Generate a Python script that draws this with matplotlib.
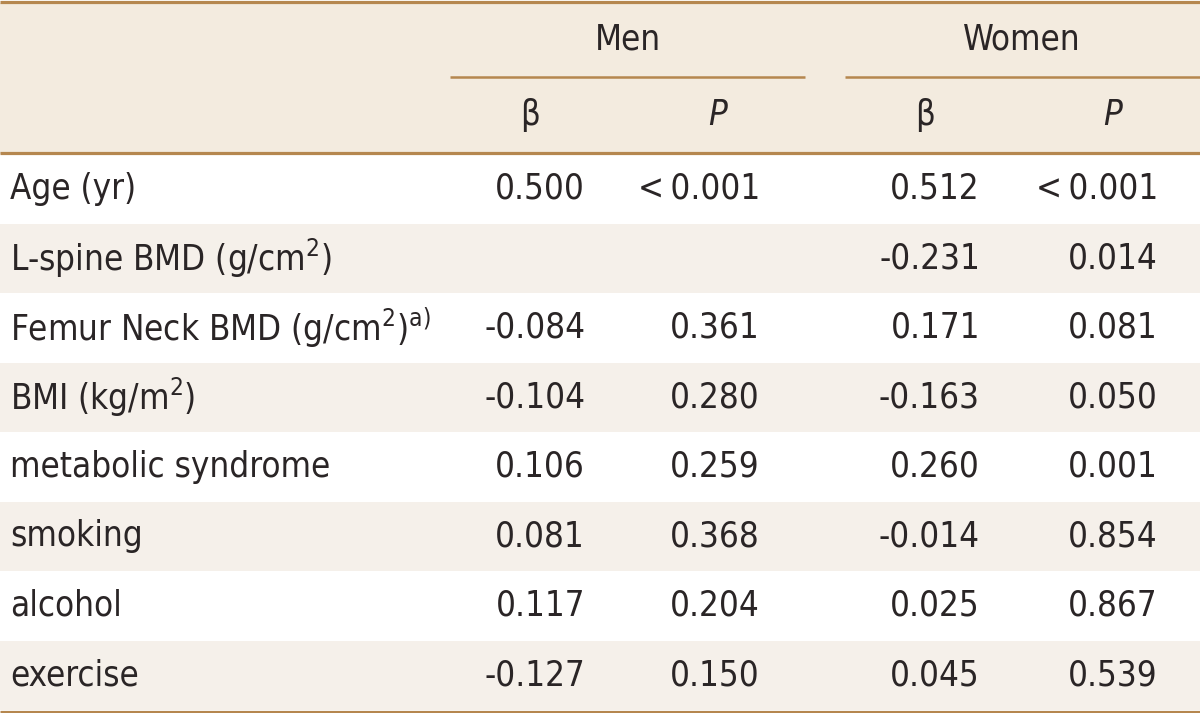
import matplotlib
matplotlib.use('Agg')
import matplotlib.pyplot as plt
from matplotlib.patches import Rectangle

# table content
variables = ['Age (yr)', 'L-spine BMD (g/cm$^{2}$)', 'Femur Neck BMD (g/cm$^{2}$)$^{\\mathrm{a)}}$',
             'BMI (kg/m$^{2}$)', 'metabolic syndrome', 'smoking', 'alcohol', 'exercise']
men_beta = ['0.500', '', '-0.084', '-0.104', '0.106', '0.081', '0.117', '-0.127']
men_p = ['<\u20090.001', '', '0.361', '0.280', '0.259', '0.368', '0.204', '0.150']
women_beta = ['0.512', '-0.231', '0.171', '-0.163', '0.260', '-0.014', '0.025', '0.045']
women_p = ['<\u20090.001', '0.014', '0.081', '0.050', '0.001', '0.854', '0.867', '0.539']
groups = ['Men', 'Women']
sub_headers = ['\u03b2', 'P']

W, H = 1200, 713
line_col = '#B5874F'
head_bg = '#F3EBDF'
band_bg = '#F5F0EA'
txt = '#2A2526'
fs = 25

plt.rcParams['font.family'] = ['DejaVu Sans']
plt.rcParams['font.stretch'] = 'condensed'
plt.rcParams['mathtext.fontset'] = 'custom'
plt.rcParams['mathtext.rm'] = 'DejaVu Sans:stretch=condensed'
plt.rcParams['mathtext.it'] = 'DejaVu Sans:italic:stretch=condensed'

fig = plt.figure(figsize=(12, 7.13), dpi=100)
ax = fig.add_axes([0, 0, 1, 1])
ax.set_xlim(0, W)
ax.set_ylim(H, 0)
ax.axis('off')

head_top, head_bot = 3, 154
row_h = (710 - head_bot) / len(variables)

ax.add_patch(Rectangle((0, head_top), W, head_bot - head_top, color=head_bg, lw=0))
for i in range(len(variables)):
    if i % 2 == 1:
        ax.add_patch(Rectangle((0, head_bot + i * row_h), W, row_h, color=band_bg, lw=0))

ax.plot([0, W], [1.5, 1.5], color=line_col, lw=2.3, solid_capstyle='butt')
ax.plot([0, W], [head_bot - 1.5, head_bot - 1.5], color=line_col, lw=2.3, solid_capstyle='butt')
ax.plot([0, W], [711.5, 711.5], color=line_col, lw=2.3, solid_capstyle='butt')

group_spans = [(450, 805), (845, 1200)]
group_centers = [628, 1022]
beta_right = [585, 980]
p_right = [760, 1158]
sub_centers = [(530, 718), (925, 1113)]

for g, name in enumerate(groups):
    x0, x1 = group_spans[g]
    ax.plot([x0, x1], [77, 77], color=line_col, lw=1.8, solid_capstyle='butt')
    ax.text(group_centers[g], 40, name, ha='center', va='center', fontsize=fs, color=txt)
    ax.text(sub_centers[g][0], 115, sub_headers[0], ha='center', va='center', fontsize=fs, color=txt)
    ax.text(sub_centers[g][1], 115, sub_headers[1], ha='center', va='center', fontsize=fs,
            color=txt, style='italic')

cols = [(men_beta, beta_right[0]), (men_p, p_right[0]),
        (women_beta, beta_right[1]), (women_p, p_right[1])]
for i, var in enumerate(variables):
    y = head_bot + (i + 0.5) * row_h
    ax.text(10, y, var, ha='left', va='center', fontsize=fs, color=txt)
    for vals, xr in cols:
        ax.text(xr, y, vals[i], ha='right', va='center', fontsize=fs, color=txt)

fig.savefig('out.png', dpi=100)
